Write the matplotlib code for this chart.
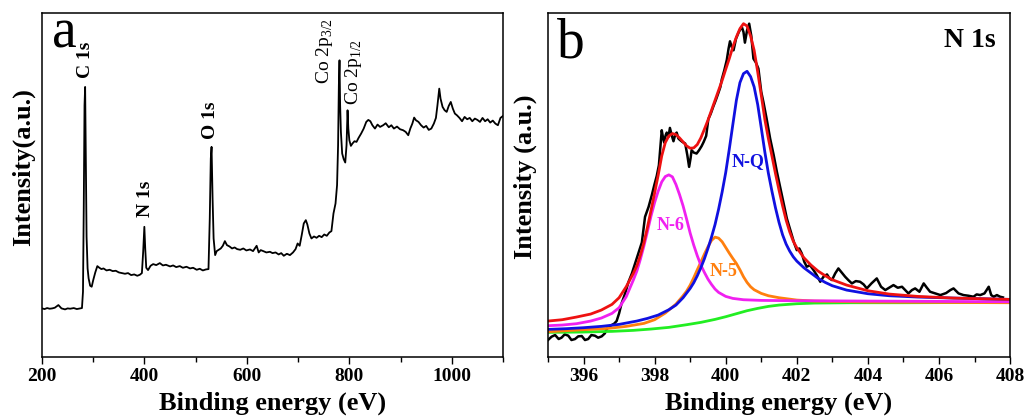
import matplotlib
matplotlib.use("Agg")
import matplotlib.pyplot as plt
from matplotlib.ticker import MultipleLocator

plt.rcParams["font.family"] = ["Liberation Serif", "DejaVu Serif"]
plt.rcParams["mathtext.fontset"] = "custom"
plt.rcParams["mathtext.rm"] = "Liberation Serif"

# (a) survey spectrum, binding energy (eV) vs intensity (a.u.)
survey_ev = [200, 205, 210, 215, 220, 225, 232, 238, 245, 250,
             255, 262, 268, 274, 278, 280, 281.5, 283, 284.2, 285.5,
             287, 289, 291, 294, 297, 300, 304, 308, 312, 316,
             320, 326, 332, 338, 344, 350, 356, 362, 368, 374,
             380, 386, 391, 395, 397.5, 399.8, 401.5, 403.5, 407, 412,
             417, 423, 430, 436, 442, 450, 456, 462, 469, 475,
             482, 489, 495, 502, 508, 514, 520, 525, 527.5, 529.5,
             531, 533, 535, 538, 541, 545, 549, 553, 557, 561,
             566, 571, 576, 581, 587, 593, 599, 606, 612, 619,
             623, 627, 632, 638, 645, 650, 656, 662, 667, 672,
             678, 684, 690, 695, 699, 703, 707, 711, 715, 718,
             722, 726, 731, 736, 741, 746, 751, 756, 761, 765,
             769, 773, 776, 778, 779.5, 780.8, 782, 783.5, 786, 789,
             792, 794.5, 796.5, 798, 800, 803, 806, 810, 814, 818,
             823, 828, 833, 837, 841, 845, 850, 855, 860, 866,
             871, 877, 882, 887, 893, 899, 905, 910, 915, 919,
             923, 926.5, 930, 935, 940, 945, 950, 955, 960, 965,
             969, 972, 975.5, 978, 982, 986, 990, 994, 998, 1002,
             1006, 1010, 1015, 1020, 1025, 1030, 1035, 1040, 1045, 1050,
             1055, 1060, 1065, 1070, 1075, 1080, 1085, 1090, 1095, 1100]
survey_counts = [150, 148, 151, 149, 150, 152, 160, 150, 147, 150,
                 149, 151, 148, 150, 151, 200, 450, 760, 815, 600,
                 365, 270, 240, 218, 215, 235, 258, 277, 272, 268,
                 270, 264, 266, 262, 263, 258, 256, 254, 256, 250,
                 252, 248, 251, 256, 320, 395, 330, 272, 265, 278,
                 283, 280, 286, 279, 281, 276, 279, 274, 277, 272,
                 275, 270, 272, 266, 269, 264, 267, 268, 420, 600,
                 635, 480, 360, 310, 322, 326, 330, 338, 352, 340,
                 336, 330, 333, 328, 326, 330, 324, 327, 322, 338,
                 318, 325, 322, 318, 320, 316, 318, 312, 316, 308,
                 314, 310, 318, 328, 345, 338, 370, 405, 415, 402,
                 375, 360, 366, 362, 368, 364, 372, 368, 378, 382,
                 435, 465, 520, 640, 820, 895, 760, 680, 615, 598,
                 588, 640, 745, 690, 655, 638, 645, 652, 650, 662,
                 675, 690, 710, 716, 712, 700, 690, 702, 695, 700,
                 706, 694, 700, 690, 696, 688, 685, 680, 670, 690,
                 705, 723, 715, 710, 700, 693, 698, 686, 690, 705,
                 722, 760, 810, 780, 755, 745, 740, 758, 770, 750,
                 735, 730, 722, 712, 725, 718, 722, 712, 720, 716,
                 710, 722, 712, 718, 708, 714, 705, 700, 722, 728]

peak_names = ["C 1s", "N 1s", "O 1s"]
peak_x = [284, 403, 529]
peak_y = [842, 425, 660]
co_names = ["Co 2p$_{3/2}$", "Co 2p$_{1/2}$"]
co_x = [752, 809]
co_y = [825, 760]

# (b) N 1s high-resolution spectrum and fitted components
n1s_ev = [395.0, 395.1, 395.2, 395.3, 395.38, 395.47, 395.57, 395.66, 395.76, 395.85,
          395.95, 396.04, 396.13, 396.22, 396.32, 396.41, 396.51, 396.6, 396.65, 396.72,
          396.79, 396.86, 396.93, 397.0, 397.07, 397.17, 397.26, 397.36, 397.45, 397.55,
          397.64, 397.7, 397.73, 397.83, 397.92, 397.99, 398.06, 398.12, 398.15, 398.2,
          398.24, 398.27, 398.31, 398.34, 398.39, 398.43, 398.48, 398.53, 398.58, 398.62,
          398.67, 398.71, 398.78, 398.86, 398.92, 398.97, 399.01, 399.04, 399.1, 399.18,
          399.25, 399.32, 399.38, 399.45, 399.51, 399.58, 399.65, 399.72, 399.79, 399.85,
          399.89, 399.96, 400.03, 400.08, 400.12, 400.17, 400.22, 400.29, 400.36, 400.42,
          400.45, 400.5, 400.54, 400.6, 400.66, 400.72, 400.78, 400.85, 400.92, 401.0,
          401.06, 401.15, 401.25, 401.35, 401.44, 401.51, 401.58, 401.65, 401.72, 401.79,
          401.86, 401.93, 402.0, 402.07, 402.14, 402.21, 402.28, 402.37, 402.47, 402.56,
          402.66, 402.75, 402.85, 402.92, 402.99, 403.08, 403.17, 403.26, 403.36, 403.45,
          403.55, 403.66, 403.78, 403.88, 403.97, 404.1, 404.25, 404.37, 404.49, 404.6,
          404.72, 404.84, 404.96, 405.05, 405.14, 405.24, 405.33, 405.45, 405.57, 405.66,
          405.75, 405.9, 406.04, 406.2, 406.32, 406.41, 406.55, 406.69, 406.83, 406.97,
          407.06, 407.16, 407.28, 407.4, 407.47, 407.54, 407.63, 407.72, 407.8]
n1s_counts = [55, 65, 70, 58, 62, 72, 68, 55, 58, 66,
              67, 55, 58, 70, 68, 62, 66, 75, 88, 95,
              100, 104, 112, 135, 165, 195, 228, 255, 285, 318,
              348, 400, 425, 455, 490, 520, 548, 580, 620, 685,
              660, 648, 670, 678, 665, 692, 670, 652, 672, 678,
              660, 656, 650, 645, 610, 575, 600, 625, 618, 615,
              625, 637, 650, 668, 718, 735, 756, 775, 796, 815,
              838, 865, 896, 930, 952, 935, 925, 960, 978, 990,
              996, 980, 948, 985, 1005, 968, 900, 888, 870, 800,
              770, 720, 660, 610, 560, 525, 490, 455, 420, 395,
              370, 345, 325, 330, 315, 290, 275, 280, 265, 250,
              230, 245, 252, 240, 235, 255, 270, 258, 245, 235,
              225, 232, 230, 222, 210, 225, 240, 215, 205, 212,
              220, 212, 215, 205, 195, 205, 210, 200, 225, 212,
              200, 195, 190, 196, 205, 210, 195, 190, 188, 185,
              192, 190, 195, 215, 190, 185, 190, 185, 183]

env_ev = [395.0, 395.4, 395.8, 396.2, 396.5, 396.8, 397.0, 397.2, 397.4, 397.5,
          397.6, 397.7, 397.8, 397.9, 398.0, 398.1, 398.2, 398.3, 398.4, 398.5,
          398.6, 398.7, 398.8, 398.9, 399.0, 399.1, 399.2, 399.3, 399.4, 399.5,
          399.6, 399.7, 399.8, 399.9, 400.0, 400.1, 400.2, 400.3, 400.4, 400.5,
          400.6, 400.7, 400.8, 400.9, 401.0, 401.1, 401.2, 401.3, 401.4, 401.5,
          401.6, 401.7, 401.8, 401.9, 402.0, 402.2, 402.4, 402.6, 402.8, 403.0,
          403.4, 404.0, 404.6, 405.4, 406.4, 407.2, 408.0]
env_counts = [112, 116, 124, 133, 145, 162, 182, 215, 255, 278,
              310, 348, 395, 445, 497, 550, 608, 648, 668, 675,
              672, 662, 650, 638, 631, 632, 642, 662, 688, 715,
              745, 775, 805, 835, 868, 900, 935, 965, 990, 1005,
              998, 968, 925, 860, 790, 718, 660, 608, 555, 505,
              458, 415, 380, 352, 332, 302, 280, 262, 248, 236,
              220, 203, 193, 186, 181, 179, 177]

nq_ev = [395.0, 395.5, 396.0, 396.5, 397.0, 397.5, 397.8, 398.1, 398.4, 398.6,
         398.8, 399.0, 399.1, 399.2, 399.3, 399.4, 399.5, 399.6, 399.7, 399.8,
         399.9, 400.0, 400.1, 400.2, 400.3, 400.4, 400.5, 400.6, 400.7, 400.8,
         400.9, 401.0, 401.1, 401.2, 401.3, 401.4, 401.5, 401.6, 401.7, 401.8,
         401.9, 402.0, 402.2, 402.4, 402.6, 402.8, 403.0, 403.4, 404.0, 404.6,
         405.4, 406.4, 407.2, 408.0]
nq_counts = [87, 89, 92, 96, 102, 112, 120, 130, 146, 160,
             182, 210, 227, 248, 272, 299, 330, 364, 402, 448,
             500, 558, 628, 702, 775, 828, 855, 862, 846, 815,
             762, 692, 620, 556, 502, 452, 408, 371, 343, 322,
             305, 292, 272, 256, 240, 228, 218, 205, 194, 188,
             184, 181, 179, 177]

n6_ev = [395.0, 395.4, 395.8, 396.2, 396.5, 396.8, 397.0, 397.2, 397.4, 397.5,
         397.6, 397.7, 397.8, 397.9, 398.0, 398.1, 398.2, 398.3, 398.4, 398.5,
         398.6, 398.7, 398.8, 398.9, 399.0, 399.1, 399.2, 399.3, 399.4, 399.5,
         399.6, 399.7, 399.8, 400.0, 400.2, 400.5, 401.0, 402.0, 404.0, 406.0,
         408.0]
n6_counts = [98, 100, 104, 112, 121, 135, 152, 185, 235, 262,
             298, 338, 382, 428, 468, 502, 530, 546, 551, 545,
             522, 492, 458, 418, 376, 340, 308, 280, 258, 238,
             222, 208, 198, 186, 180, 176, 174, 173, 172, 171,
             170]

n5_ev = [395.0, 395.5, 396.0, 396.7, 397.2, 397.7, 398.0, 398.3, 398.6, 398.8,
         398.9, 399.0, 399.1, 399.2, 399.3, 399.4, 399.5, 399.6, 399.7, 399.8,
         399.9, 400.0, 400.1, 400.2, 400.3, 400.4, 400.5, 400.6, 400.7, 400.8,
         401.0, 401.2, 401.5, 402.0, 402.5, 404.0, 406.0, 408.0]
n5_counts = [80, 83, 86, 90, 96, 105, 116, 136, 163, 188,
             202, 220, 242, 266, 289, 313, 335, 354, 364, 361,
             350, 333, 316, 300, 285, 266, 245, 228, 215, 206,
             195, 188, 182, 175, 172, 169, 168, 167]

bg_ev = [395.0, 396.0, 396.8, 397.4, 397.9, 398.4, 398.9, 399.3, 399.7, 400.0,
         400.3, 400.6, 400.9, 401.2, 401.5, 402.0, 402.5, 403.5, 405.0, 408.0]
bg_counts = [78, 79, 81, 84, 88, 93, 101, 108, 117, 125,
             134, 143, 150, 156, 160, 164, 166, 167, 167, 168]

comp_names = ["N-Q", "N-6", "N-5"]
comp_x = [400.64, 398.44, 399.94]
comp_y = [590, 400, 262]
comp_colors = ["#1010e0", "#f020f0", "#ff7f0e"]


def style_axes(ax, major, minor):
    ax.xaxis.set_major_locator(MultipleLocator(major))
    ax.xaxis.set_minor_locator(MultipleLocator(minor))
    ax.tick_params(axis="x", which="major", direction="out", length=5,
                   width=1, labelsize=14, pad=3)
    ax.tick_params(axis="x", which="minor", direction="out", length=3.5,
                   width=1)
    ax.set_yticks([])
    for lab in ax.get_xticklabels():
        lab.set_fontweight("bold")
    for sp in ax.spines.values():
        sp.set_linewidth(1.1)
    ax.set_xlabel("Binding energy (eV)", fontsize=19, fontweight="bold",
                  labelpad=4.5)


fig = plt.figure(figsize=(10.27, 4.16), dpi=100)
ax1 = fig.add_axes([0.0409, 0.1418, 0.4489, 0.8269])
ax2 = fig.add_axes([0.5336, 0.1418, 0.4499, 0.8269])

# panel a
ax1.plot(survey_ev, survey_counts, color="black", lw=1.3)
ax1.set_xlim(200, 1100)
ax1.set_ylim(4, 1037)
style_axes(ax1, 200, 100)
for name, x, y in zip(peak_names, peak_x, peak_y):
    ax1.text(x, y, name, rotation=90, ha="center", va="bottom",
             fontsize=14, fontweight="bold")
for name, x, y in zip(co_names, co_x, co_y):
    ax1.text(x, y, name, rotation=90, ha="center", va="bottom", fontsize=14)
ax1.text(0.022, 0.90, "a", transform=ax1.transAxes, fontsize=40,
         ha="left", va="baseline")
ax1.text(-0.041, 0.551, "Intensity(a.u.)", transform=ax1.transAxes,
         rotation=90, ha="center", va="center", fontsize=19, fontweight="bold")

# panel b
ax2.plot(n1s_ev, n1s_counts, color="black", lw=1.8)
ax2.plot(bg_ev, bg_counts, color="#22ee22", lw=2)
ax2.plot(n5_ev, n5_counts, color=comp_colors[2], lw=2)
ax2.plot(n6_ev, n6_counts, color=comp_colors[1], lw=2)
ax2.plot(nq_ev, nq_counts, color=comp_colors[0], lw=2)
ax2.plot(env_ev, env_counts, color="#ee1111", lw=2)
ax2.set_xlim(395, 408)
ax2.set_ylim(4, 1037)
style_axes(ax2, 2, 1)
for name, x, y, c in zip(comp_names, comp_x, comp_y, comp_colors):
    ax2.text(x, y, name, ha="center", va="center", fontsize=13,
             fontweight="bold", color=c)
ax2.text(0.02, 0.872, "b", transform=ax2.transAxes, fontsize=40,
         ha="left", va="baseline")
ax2.text(0.913, 0.919, "N 1s", transform=ax2.transAxes, ha="center",
         va="center", fontsize=20, fontweight="bold")
ax2.text(-0.05, 0.525, "Intensity (a.u.)", transform=ax2.transAxes,
         rotation=90, ha="center", va="center", fontsize=19, fontweight="bold")

fig.savefig("out.png", dpi=100)
